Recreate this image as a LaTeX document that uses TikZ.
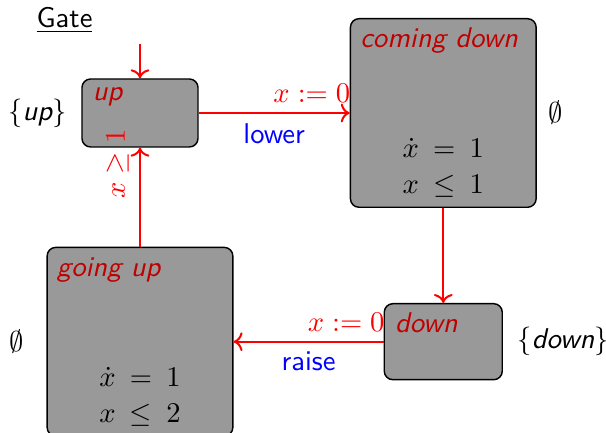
\documentclass[tikz,border=0pt]{standalone}
\usepackage{amsmath}
\usepackage{amssymb}
\usetikzlibrary{arrows.meta,positioning,calc}
\renewcommand{\familydefault}{\sfdefault}

\begin{document}
\begin{tikzpicture}[
  loc/.style={draw,rounded corners=3pt,fill=black!40,line width=0.5pt},
  smallloc/.style={loc,minimum width=40.6pt,minimum height=23.8pt},
  bigloc/.style={loc,minimum width=65pt,minimum height=66pt},
  locname/.style={anchor=base west,inner sep=0,text=red!75!black,font=\itshape},
  inv/.style={anchor=south,inner sep=0,align=center},
  trans/.style={->,red,line width=0.7pt},
  guard/.style={red,inner sep=0},
  act/.style={blue}
]
  \useasboundingbox (-49pt,39.55pt) rectangle (163.1pt,-112pt);

  % locations
  \node[smallloc] (up) at (0,0) {};
  \node[bigloc,right=52.85pt of up] (cdown) {};
  \node[smallloc,minimum width=41.3pt,minimum height=26.6pt,below=33.25pt of cdown] (down) {};
  \node[bigloc,left=52.5pt of down] (gup) {};

  \node[locname] (upname) at ($(up.north west)+(3.85pt,-7.7pt)$) {up};
  \node[locname] (cdname) at ($(cdown.north west)+(3.5pt,-10.5pt)$) {coming down};
  \node[locname] (downname) at ($(down.north west)+(3.85pt,-10.5pt)$) {down};
  \node[locname] (gupname) at ($(gup.north west)+(3.5pt,-10.5pt)$) {going up};

  \node[inv] (cdinv) at ($(cdown.south)+(0,3.5pt)$) {$\dot{x}\:=\:1$\\[0.6pt]$x\:\le\:1$};
  \node[inv] (gupinv) at ($(gup.south)+(0,3.5pt)$) {$\dot{x}\:=\:1$\\[0.6pt]$x\:\le\:2$};

  % labels
  \node[left=5pt of up,inner sep=0] (upset) {$\{\textit{up}\}$};
  \node[right=4pt of cdown,inner sep=0] (cdset) {$\emptyset$};
  \node[right=4.9pt of down,inner sep=0] (downset) {$\{\textit{down}\}$};
  \node[left=7.7pt of gup,inner sep=0] (gupset) {$\emptyset$};
  \node[anchor=base] (title) at ($(up.north)+(-26.4pt,17.85pt)$) {\underline{Gate}};

  % edges
  \coordinate (init) at ($(up.north)+(0,11.9pt)$);
  \draw[trans] (init) -- (up.north);
  \draw[trans] (up) -- node[act,below]{lower}
    node[guard,pos=1,anchor=base east,xshift=0.5pt,yshift=3.5pt]{$x := 0$} (cdown);
  \draw[trans] (cdown) -- (down);
  \draw[trans] (down) -- node[act,below]{raise}
    node[guard,pos=0,anchor=base east,xshift=0.7pt,yshift=3.5pt]{$x := 0$} (gup);
  \draw[trans] (gup) -- node[guard,pos=1,xshift=-5.25pt,yshift=6.65pt,rotate=90,anchor=base east]{$x \geq 1$} (up);
\end{tikzpicture}
\end{document}
